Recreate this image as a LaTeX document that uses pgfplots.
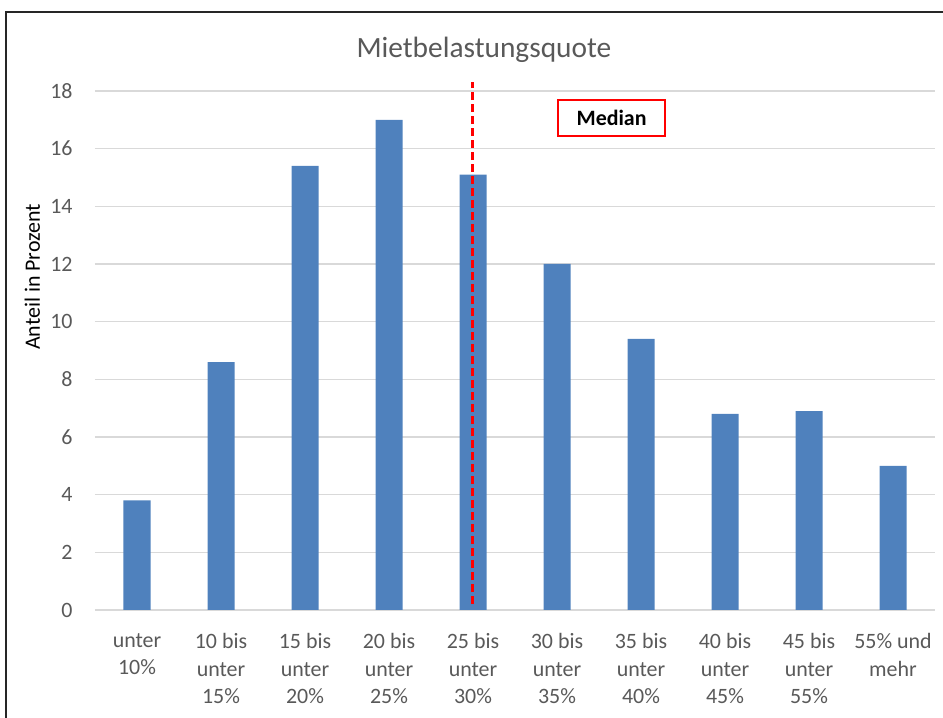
\documentclass[border=0pt]{standalone}
\usepackage{pgfplots}
\pgfplotsset{compat=1.18}
\usepackage{fontspec}
\setmainfont{Carlito}
\definecolor{barblue}{HTML}{4F81BD}
\definecolor{txtgray}{HTML}{595959}
\definecolor{gridgray}{HTML}{D9D9D9}
\begin{document}
\begin{tikzpicture}[x=1bp,y=1bp]
\useasboundingbox (-95,-108) rectangle (848,610);
\draw[line width=2bp, black!85] (-89,-140) rectangle (880,598);
\begin{axis}[
  at={(0,0)}, anchor=south west,
  scale only axis,
  width=840bp, height=519bp,
  xmin=-0.5, xmax=9.5,
  ymin=0, ymax=18,
  ytick={0,2,...,18},
  xtick={0,...,9},
  xticklabels={{unter\\10\%},{10 bis\\unter\\15\%},{15 bis\\unter\\20\%},{20 bis\\unter\\25\%},{25 bis\\unter\\30\%},{30 bis\\unter\\35\%},{35 bis\\unter\\40\%},{40 bis\\unter\\45\%},{45 bis\\unter\\55\%},{55\% und\\mehr}},
  /pgf/number format/assume math mode=true,
  axis line style={draw=none},
  major tick length=0pt,
  ymajorgrids,
  grid style={gridgray, line width=1.5bp},
  yticklabel style={font=\fontsize{22}{27}\selectfont, text=txtgray, xshift=-19bp},
  xticklabel style={font=\fontsize{22}{27.5}\selectfont, text=txtgray, align=center, anchor=north, yshift=-20bp},
  ylabel={Anteil in Prozent},
  every axis y label/.style={at={(axis description cs:-0.0745,0.642)}, rotate=90, anchor=center, font=\fontsize{22}{27}\selectfont},
  title={Mietbelastungsquote},
  every axis title/.style={at={(axis description cs:0.463,1)}, anchor=center, yshift=41bp, font=\fontsize{29.5}{34}\selectfont, text=txtgray},
  clip=false,
]
\addplot[ybar, bar width=27bp, fill=barblue, draw=none] coordinates {
  (0,3.8) (1,8.6) (2,15.4) (3,17.0) (4,15.1) (5,12.0) (6,9.4) (7,6.8) (8,6.9) (9,5.0)
};
\addplot[red, line width=3bp, dash pattern=on 8bp off 4bp] coordinates {(3.99,0.2) (3.99,18.3)};
\node[draw=red, line width=1.5bp, fill=white, minimum width=107bp, minimum height=36bp, font=\fontsize{22}{27}\selectfont\bfseries, inner sep=0pt] at (axis cs:5.65,17.07) {Median};
\end{axis}
\end{tikzpicture}
\end{document}
